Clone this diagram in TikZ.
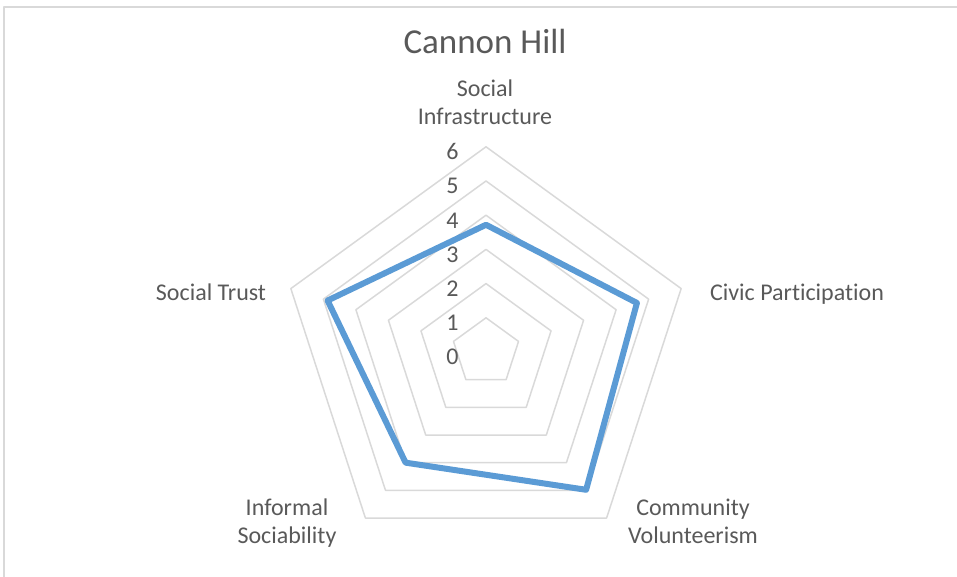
\documentclass[tikz,border=0pt]{standalone}
\usepackage{fontspec}
\setmainfont{Carlito}[Ligatures=NoCommon]
\definecolor{txtgray}{HTML}{595959}
\definecolor{gridgray}{HTML}{D9D9D9}
\definecolor{seriesblue}{HTML}{5B9BD5}
\begin{document}
\begin{tikzpicture}[x=1pt,y=1pt,line join=round,line cap=round,
	font=\fontsize{24}{28.5}\selectfont,text=txtgray,
	ring/.style={gridgray,line width=1.5},
	series/.style={seriesblue,line width=6},
	axislbl/.style={align=center,anchor=base}]
	\def \cx{486}
	\def \cy{225}
	\def \u{34.2}
	\useasboundingbox (0,0) rectangle (957,577);
	\draw[gridgray,line width=2] (4,0) -- (4,570) -- (957,570);
	\node[font=\fontsize{35}{42}\selectfont,anchor=base] (title) at (485,523) {Cannon Hill};
	\begin{scope}[shift={(\cx,\cy)}]
		\foreach \r in {1,...,6}
		{
			\draw[ring] (90:\r*\u) -- (18:\r*\u) -- (-54:\r*\u) -- (-126:\r*\u) -- (162:\r*\u) -- cycle;
		}
		\foreach \k in {0,...,6}
		{
			\node[anchor=base east] (tick\k) at (-24,\k*\u-13) {\k};
		}
		\coordinate (si) at (90:3.72*\u);
		\coordinate (cp) at (18:4.64*\u);
		\coordinate (cv) at (-54:4.98*\u);
		\coordinate (is) at (-126:4.0*\u);
		\coordinate (st) at (162:4.87*\u);
		\draw[series] (si) -- (cp) -- (cv) -- (is) -- (st) -- cycle;
	\end{scope}
	\node[axislbl] (lblsi) at (485,452) {Social\\Infrastructure};
	\node[axislbl] (lblcp) at (797,276.3) {Civic Participation};
	\node[axislbl] (lblcv) at (693,33) {Community\\Volunteerism};
	\node[axislbl] (lblis) at (287,33) {Informal\\Sociability};
	\node[axislbl] (lblst) at (211,276.3) {Social Trust};
\end{tikzpicture}
\end{document}
